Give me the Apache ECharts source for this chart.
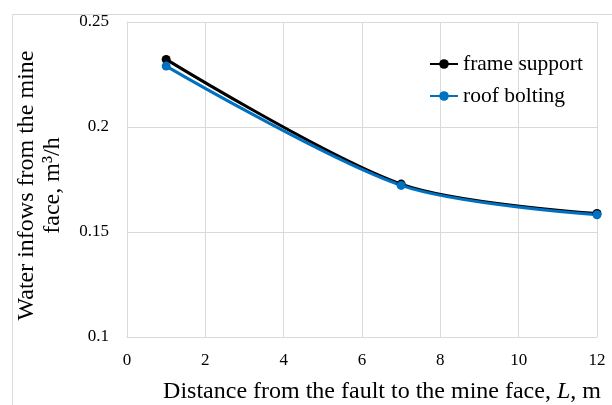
<!DOCTYPE html>
<html>
<head>
<meta charset="utf-8">
<script src="https://cdn.jsdelivr.net/npm/echarts@6/dist/echarts.min.js"></script>
<style>
html,body{margin:0;padding:0;background:#fff;}
#c{width:612px;height:405px;}
</style>
</head>
<body>
<div id="c"></div>
<script>
var distances = [1, 7, 12];
var frameSupport = [0.2322, 0.1728, 0.1588];
var roofBolting = [0.2290, 0.1722, 0.1582];
var seriesNames = ['frame support', 'roof bolting'];
var xTicks = {min: 0, max: 12, interval: 2};
var yTicks = {min: 0.1, max: 0.25, interval: 0.05};

function pairs(xs, ys) { return xs.map(function (x, i) { return [x, ys[i]]; }); }

var font = 'Liberation Serif';
var chart = echarts.init(document.getElementById('c'), null, {renderer: 'canvas'});
chart.setOption({
  backgroundColor: '#fff',
  animation: false,
  graphic: [{
    type: 'rect', left: 10, top: 12, shape: {x: 0, y: 0, width: 640, height: 420},
    style: {fill: 'none', stroke: '#d9d9d9', lineWidth: 1}, silent: true, z: -1
  }],
  grid: {left: 127, right: 15, top: 22, bottom: 68, containLabel: false, outerBoundsMode: 'none'},
  legend: {
    orient: 'vertical', left: 424, top: 48,
    itemWidth: 28, itemHeight: 12, itemGap: 10,
    textStyle: {fontFamily: font, fontSize: 21.5, color: '#000', lineHeight: 22},
    data: seriesNames
  },
  xAxis: {
    type: 'value', min: xTicks.min, max: xTicks.max, interval: xTicks.interval,
    name: 'Distance from the fault to the mine face, {i|L}, m',
    nameLocation: 'middle', nameGap: 43,
    nameTextStyle: {fontFamily: font, fontSize: 24, color: '#000', padding: [0, 0, 0, 40],
      rich: {i: {fontFamily: font, fontSize: 24, fontStyle: 'italic', color: '#000'}}},
    axisLine: {show: true, lineStyle: {color: '#d9d9d9', width: 1}},
    axisTick: {show: false},
    splitLine: {show: true, lineStyle: {color: '#d9d9d9', width: 1}},
    axisLabel: {fontFamily: font, fontSize: 17, color: '#000', margin: 15}
  },
  yAxis: {
    type: 'value', min: yTicks.min, max: yTicks.max, interval: yTicks.interval,
    name: 'Water infows from the mine\nface, m³/h',
    nameLocation: 'middle', nameRotate: 90, nameGap: 61,
    nameTextStyle: {fontFamily: font, fontSize: 24, color: '#000', lineHeight: 26, padding: [0, 12, 0, 0]},
    axisLine: {show: true, lineStyle: {color: '#d9d9d9', width: 1}},
    axisTick: {show: false},
    splitLine: {show: true, lineStyle: {color: '#d9d9d9', width: 1}},
    axisLabel: {fontFamily: font, fontSize: 17, color: '#000', margin: 18,
      formatter: function (v) { return String(+v.toFixed(2)); }}
  },
  series: [
    {
      name: seriesNames[0], type: 'line', smooth: 0.3,
      data: pairs(distances, frameSupport),
      symbol: 'circle', symbolSize: 9,
      itemStyle: {color: '#000'}, lineStyle: {color: '#000', width: 3}
    },
    {
      name: seriesNames[1], type: 'line', smooth: 0.3,
      data: pairs(distances, roofBolting),
      symbol: 'circle', symbolSize: 9,
      itemStyle: {color: '#0070C0'}, lineStyle: {color: '#0070C0', width: 3}
    }
  ]
});
</script>
</body>
</html>
